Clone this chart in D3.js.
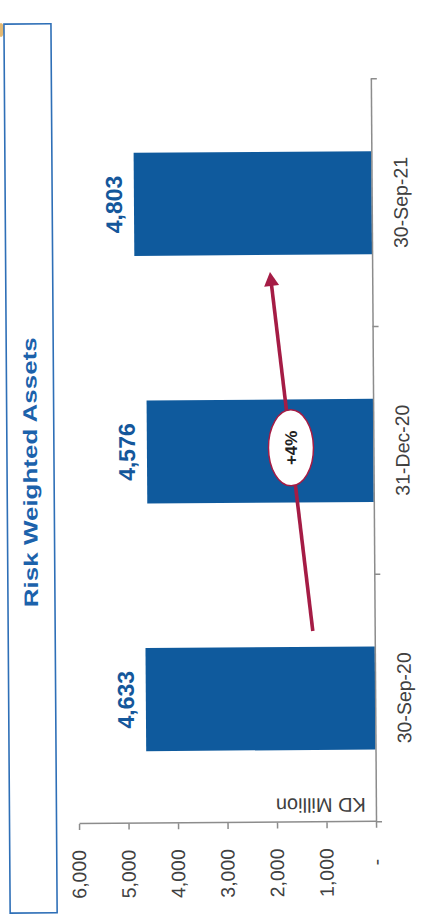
<!DOCTYPE html>
<html>
<head>
<meta charset="utf-8">
<script src="https://cdn.jsdelivr.net/npm/d3@7/dist/d3.min.js"></script>
<style>
  html, body { margin: 0; padding: 0; background: #ffffff; }
  svg { display: block; }
  text { font-family: "Liberation Sans", Arial, sans-serif; }
</style>
</head>
<body>
<script>
// Risk weighted assets by reporting date (KD million)
const categories = ["30-Sep-20", "31-Dec-20", "30-Sep-21"];
const values = [4633, 4576, 4803];
const valueTicks = [0, 1000, 2000, 3000, 4000, 5000, 6000];
const chartTitle = "Risk Weighted Assets";
const unitLabel = "KD Million";
// growth arrow ends, expressed in axis units
const arrowValues = [1250, 2065];

const W = 422, H = 922;

const svg = d3.select("body").append("svg")
  .attr("width", W)
  .attr("height", H);

// small orange mark at the page corner
svg.append("ellipse")
  .attr("cx", 1).attr("cy", 30).attr("rx", 3).attr("ry", 7)
  .attr("fill", "#dba244").attr("opacity", 0.75);

// the landscape chart is turned onto the portrait page
const page = svg.append("g").attr("transform", `rotate(-0.4 ${W / 2} ${H / 2})`);
const g = page.append("g").attr("transform", `translate(0,${H}) rotate(-90)`);

const plot = { left: 99, right: 842, top: 76.5, bottom: 373.5 };

const x = d3.scaleBand()
  .domain(categories)
  .range([plot.left, plot.right])
  .paddingInner(0.584)
  .paddingOuter(0.292);

const y = d3.scaleLinear()
  .domain([0, 6000])
  .range([plot.bottom, plot.top]);

const blue = "#0f5a9d";
const axisGrey = "#8c8c8c";
const textGrey = "#404040";
const crimson = "#a51c45";

// title box
g.append("rect")
  .attr("x", 10.3).attr("y", 7)
  .attr("width", 889).attr("height", 47)
  .attr("fill", "none")
  .attr("stroke", "#2e6fb7")
  .attr("stroke-width", 1.6);

g.append("text")
  .attr("x", 451).attr("y", 37)
  .attr("text-anchor", "middle")
  .attr("font-size", 19.5)
  .attr("font-weight", "bold")
  .attr("fill", "#1c62ab")
  .attr("textLength", 270)
  .attr("lengthAdjust", "spacingAndGlyphs")
  .text(chartTitle);

// bars
g.append("g").selectAll("rect")
  .data(categories)
  .join("rect")
  .attr("x", d => x(d))
  .attr("y", (d, i) => y(values[i]))
  .attr("width", x.bandwidth())
  .attr("height", (d, i) => y(0) - y(values[i]))
  .attr("fill", blue);

// value axis
const fmt = d3.format(",");
const yAxis = g.append("g")
  .attr("transform", `translate(${plot.left},0)`)
  .call(d3.axisLeft(y)
    .tickValues(valueTicks)
    .tickSizeInner(6)
    .tickSizeOuter(0)
    .tickPadding(20)
    .tickFormat(v => v === 0 ? "-" : fmt(v)));
yAxis.select(".domain").attr("stroke", axisGrey).attr("stroke-width", 1.5);
yAxis.selectAll(".tick line").attr("stroke", axisGrey).attr("stroke-width", 1.5);
yAxis.selectAll(".tick text")
  .attr("font-size", 19.5)
  .attr("font-family", "'Liberation Sans', Arial, sans-serif")
  .attr("fill", textGrey)
  .filter(v => v === 0)
  .attr("x", -37);

// category axis
const xAxis = g.append("g")
  .attr("transform", `translate(0,${plot.bottom})`)
  .call(d3.axisBottom(x)
    .tickSizeInner(0)
    .tickSizeOuter(0)
    .tickPadding(22));
xAxis.select(".domain").attr("stroke", axisGrey).attr("stroke-width", 1.5);
xAxis.selectAll(".tick text")
  .attr("font-size", 19.5)
  .attr("font-family", "'Liberation Sans', Arial, sans-serif")
  .attr("fill", textGrey);

// tick marks between categories
const bounds = d3.range(categories.length + 1).map(i => plot.left + i * x.step());
xAxis.selectAll(".sep")
  .data(bounds)
  .join("line")
  .attr("class", "sep")
  .attr("x1", d => d).attr("x2", d => d)
  .attr("y1", 0).attr("y2", 6)
  .attr("stroke", axisGrey)
  .attr("stroke-width", 1.5);

// unit label
g.append("text")
  .attr("transform", `translate(${plot.left + 24},${plot.bottom - 10}) rotate(-90)`)
  .attr("font-size", 20)
  .attr("fill", textGrey)
  .text(unitLabel);

// value labels
g.append("g").selectAll("text")
  .data(categories)
  .join("text")
  .attr("x", d => x(d) + x.bandwidth() / 2)
  .attr("y", (d, i) => y(values[i]) - 12)
  .attr("text-anchor", "middle")
  .attr("font-size", 23)
  .attr("font-weight", "bold")
  .attr("fill", "#14579b")
  .text((d, i) => fmt(values[i]));

// growth arrow from first to last period
const first = categories[0], last = categories[categories.length - 1];
const x0 = x(first) + x.bandwidth() + 16, y0 = y(arrowValues[0]);
const x1 = x(last) - 17, y1 = y(arrowValues[1]);
const len = Math.hypot(x1 - x0, y1 - y0);
const ux = (x1 - x0) / len, uy = (y1 - y0) / len;
const headLen = 14, headHalf = 7.5;
const bx = x1 - ux * headLen, by = y1 - uy * headLen;

const arrow = g.append("g");
arrow.append("line")
  .attr("x1", x0).attr("y1", y0)
  .attr("x2", bx + ux * 2).attr("y2", by + uy * 2)
  .attr("stroke", crimson)
  .attr("stroke-width", 3.6);
arrow.append("path")
  .attr("d", `M${x1},${y1} L${bx - uy * headHalf},${by + ux * headHalf} L${bx + uy * headHalf},${by - ux * headHalf} Z`)
  .attr("fill", crimson);

// growth badge
const growth = values[values.length - 1] / values[0] - 1;
const t = 0.51;
const cx = x0 + (x1 - x0) * t, cy = y0 + (y1 - y0) * t;
arrow.append("ellipse")
  .attr("cx", cx).attr("cy", cy)
  .attr("rx", 38).attr("ry", 22.5)
  .attr("fill", "#ffffff")
  .attr("stroke", crimson)
  .attr("stroke-width", 1.5);
arrow.append("text")
  .attr("x", cx).attr("y", cy)
  .attr("dy", "0.36em")
  .attr("text-anchor", "middle")
  .attr("font-size", 17)
  .attr("font-weight", "bold")
  .attr("fill", "#1e1e1e")
  .text(d3.format("+.0%")(growth));
</script>
</body>
</html>
